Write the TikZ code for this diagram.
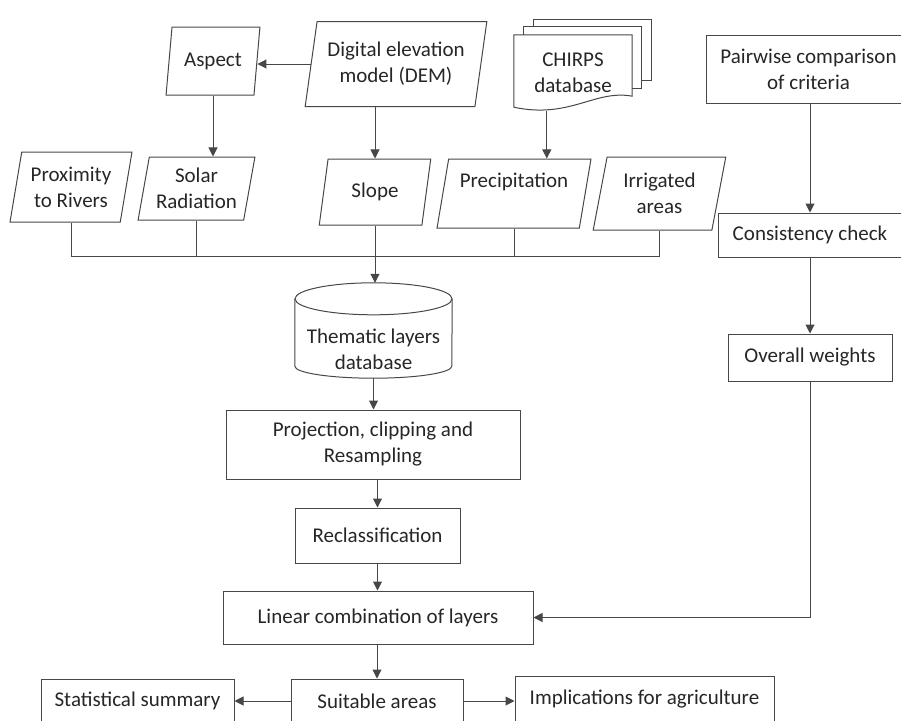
\documentclass[tikz,border=0pt]{standalone}
\usepackage{fontspec}
\setmainfont{Carlito}
\usetikzlibrary{shapes.geometric}
\usetikzlibrary{arrows.meta}
\usetikzlibrary{calc}

\begin{document}
\begin{tikzpicture}[x=1pt,y=-1pt,
      font=\fontsize{21}{26}\selectfont,
      conn/.style={draw=black!72,line width=1pt},
      arrowline/.style={conn,-{Triangle[length=9pt,width=9pt]}},
      datablock/.style={conn,trapezium,trapezium left angle=77,trapezium right angle=103,
                        trapezium stretches=true,align=center,inner sep=1pt,text=black!85},
      processblock/.style={conn,rectangle,align=center,inner sep=2pt,text=black!85}]
    \useasboundingbox (0,0) rectangle (901,720);
    \clip (0,0) rectangle (901,720);

    % Inputs
    \node[datablock,minimum width=94pt, minimum height=68pt] (aspect) at (213,61)     {Aspect};
    \node[datablock,minimum width=182pt,minimum height=85pt] (dem)    at (396,64)     {Digital elevation\\model (DEM)};
    \node[datablock,minimum width=122pt,minimum height=70pt] (prox)   at (71,187)     {Proximity\\to Rivers};
    \node[datablock,minimum width=117pt,minimum height=63pt] (solar)  at (196.5,188.5){Solar\\Radiation};
    \node[datablock,minimum width=112pt,minimum height=66pt] (slope)  at (375,192)    {Slope};
    \node[datablock,minimum width=154pt,minimum height=69pt] (precip) at (514,193.5)  {Precipitation\\\phantom{X}};
    \node[datablock,minimum width=133pt,minimum height=73pt] (irr)    at (659.5,193.5){Irrigated\\areas};

    % CHIRPS pages
    \node[minimum width=118pt,minimum height=76pt,inner sep=0pt,align=center,text=black!85] (chirps) at (573,73) {CHIRPS\\database};
    \draw[conn] ($(chirps.north west)+(20,-8)$) -- ++(0,-7) -- ++(118,0) -- ++(0,61) -- ++(-10,0);
    \draw[conn] ($(chirps.north west)+(10,0)$) -- ++(0,-8) -- ++(118,0) -- ++(0,62) -- ++(-10,0);
    \draw[conn] (chirps.north west) -- (chirps.north east) -- ($(chirps.south east)+(0,-15)$)
          .. controls ($(chirps.south east)+(-37,-22)$) and ($(chirps.south west)+(56,8)$) .. ($(chirps.south west)+(0,-4)$) -- cycle;
    \coordinate (chirpsout) at ($(chirps.south west)+(33,0)$);

    % Weights
    \node[processblock,minimum width=205pt,minimum height=68pt] (pairwise)    at (808.5,69) {Pairwise comparison\\of criteria};
    \node[processblock,minimum width=184pt,minimum height=44pt] (consistency) at (810,235)   {Consistency check};
    \node[processblock,minimum width=164pt,minimum height=47pt] (overall)     at (810,357.5) {Overall weights};

    % Database
    \node[minimum width=157pt,minimum height=95pt,inner sep=0pt] (thematic) at (373.5,330.5) {};
    \node[align=center,text=black!85] (thematiclabel) at ($(thematic.center)+(0,19)$) {Thematic layers\\database};
    \draw[conn] ($(thematic.north)+(0,16)$) ellipse [x radius=78.5pt,y radius=16pt];
    \draw[conn] ($(thematic.north west)+(0,16)$) -- ($(thematic.south west)+(0,-12)$)
          arc [start angle=180,end angle=360,x radius=78.5pt,y radius=12pt] -- ($(thematic.north east)+(0,16)$);

    % Processing
    \node[processblock,minimum width=294pt,minimum height=69pt] (proj)     at (373,444.5)  {Projection, clipping and\\Resampling};
    \node[processblock,minimum width=165pt,minimum height=55pt] (reclass)  at (377.5,535.5){Reclassification};
    \node[processblock,minimum width=310pt,minimum height=53pt] (linear)   at (378,617.5)  {Linear combination of layers};
    \node[processblock,minimum width=172pt,minimum height=44pt] (suitable) at (377,701)    {Suitable areas};
    \node[processblock,minimum width=193pt,minimum height=44pt] (stat)     at (137.5,701)  {Statistical summary};
    \node[processblock,minimum width=259pt,minimum height=46pt] (impl)     at (644.5,699)  {Implications for agriculture};

    % Arrows
    \coordinate (bus) at (375,256);
    \draw[arrowline] (dem.west) -- (aspect.east |- dem.west);
    \draw[arrowline] (aspect.south) -- (aspect.south |- solar.north);
    \draw[arrowline] (slope.north |- dem.south) -- (slope.north);
    \draw[arrowline] (chirpsout) -- (chirpsout |- precip.north);
    \draw[conn] (prox.center |- prox.south) -- (prox.center |- bus) -- (irr.center |- bus) -- (irr.center |- irr.south);
    \draw[conn] (solar.south) -- (solar.south |- bus);
    \draw[conn] (precip.center |- precip.south) -- (precip.center |- bus);
    \draw[arrowline] (slope.center |- slope.south) -- (slope.center |- thematic.north);
    \draw[arrowline] (thematic.south) -- (thematic.south |- proj.north);
    \draw[arrowline] (reclass.north |- proj.south) -- (reclass.north);
    \draw[arrowline] (reclass.south) -- (reclass.south |- linear.north);
    \draw[arrowline] (suitable.north |- linear.south) -- (suitable.north);
    \draw[arrowline] (suitable.west) -- (stat.east);
    \draw[arrowline] (suitable.east) -- (suitable.east -| impl.west);
    \draw[arrowline] (consistency.north |- pairwise.south) -- (consistency.north);
    \draw[arrowline] (consistency.south) -- (consistency.south |- overall.north);
    \draw[arrowline] (overall.south) |- (linear.east);

\end{tikzpicture}
\end{document}
